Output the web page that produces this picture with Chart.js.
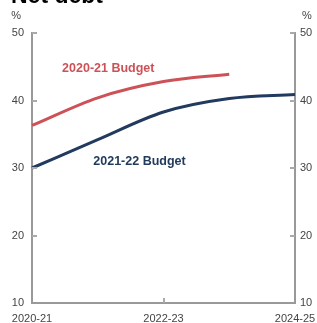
<!DOCTYPE html>
<html><head><meta charset="utf-8">
<script src="https://cdn.jsdelivr.net/npm/chart.js@4/dist/chart.umd.min.js"></script>
<style>html,body{margin:0;padding:0;background:#fff}#wrap{width:317px;height:323px;position:relative}</style>
</head><body><div id="wrap"><canvas id="c" width="317" height="323"></canvas></div>
<script>
const title = 'Net debt';
const unit = '%';
const years = ['2020-21','2021-22','2022-23','2023-24','2024-25'];
const shownYears = ['2020-21','2022-23','2024-25'];
const budget2021 = [36.3, 40.4, 42.8, 43.9, null];
const budget2122 = [30.0, 34.2, 38.3, 40.3, 40.9];
const seriesNames = ['2020-21 Budget','2021-22 Budget'];
const yTicks = [10,20,30,40,50];

const RED = '#cc5257', NAVY = '#223a5e', AXIS = '#999999', TXT = '#444444';
const FONT = '"Liberation Sans", Arial, sans-serif';

const deco = {
  id: 'deco',
  afterDraw(chart) {
    const ctx = chart.ctx, x = chart.scales.x, y = chart.scales.y, a = chart.chartArea;
    ctx.save();
    ctx.strokeStyle = '#aaaaaa'; ctx.lineWidth = 2;
    yTicks.slice(1).forEach(v => {
      const py = Math.round(y.getPixelForValue(v));
      ctx.beginPath(); ctx.moveTo(a.left, py); ctx.lineTo(a.left + 5, py); ctx.stroke();
      ctx.beginPath(); ctx.moveTo(a.right - 5, py); ctx.lineTo(a.right, py); ctx.stroke();
    });
    const px = Math.round(x.getPixelForValue(2));
    ctx.beginPath(); ctx.moveTo(px, a.bottom); ctx.lineTo(px, a.bottom - 5); ctx.stroke();
    ctx.fillStyle = TXT; ctx.font = '11px ' + FONT; ctx.textBaseline = 'middle';
    ctx.textAlign = 'right'; ctx.fillText(unit, 21, 16);
    ctx.textAlign = 'left'; ctx.fillText(unit, 302, 16);
    ctx.fillStyle = '#000'; ctx.font = 'bold 23px ' + FONT; ctx.textBaseline = 'alphabetic';
    ctx.fillText(title, 11, 3);
    ctx.font = 'bold 12.5px ' + FONT; ctx.textAlign = 'center'; ctx.textBaseline = 'middle';
    ctx.fillStyle = RED;
    ctx.fillText(seriesNames[0], x.getPixelForValue(1.16), y.getPixelForValue(44.8));
    ctx.fillStyle = NAVY;
    ctx.fillText(seriesNames[1], x.getPixelForValue(1.635), y.getPixelForValue(30.9));
    ctx.restore();
  }
};

new Chart(document.getElementById('c'), {
  type: 'line',
  data: {
    labels: years,
    datasets: [
      {label: seriesNames[0], data: budget2021, borderColor: RED, borderWidth: 3, pointRadius: 0, cubicInterpolationMode: 'monotone', spanGaps: false, yAxisID: 'y'},
      {label: seriesNames[1], data: budget2122, borderColor: NAVY, borderWidth: 3, pointRadius: 0, cubicInterpolationMode: 'monotone', yAxisID: 'y'}
    ]
  },
  options: {
    responsive: false, animation: false, devicePixelRatio: 1,
    layout: {padding: {top: 33, left: 0, right: 0, bottom: 0}},
    plugins: {legend: {display: false}, tooltip: {enabled: false}},
    scales: {
      x: {
        type: 'category', offset: false,
        grid: {display: false, drawTicks: false},
        border: {display: true, color: AXIS, width: 2},
        ticks: {autoSkip: false, maxRotation: 0, padding: 9, color: TXT, font: {family: FONT, size: 11},
          callback: function(v) { const l = this.getLabelForValue(v); return shownYears.includes(l) ? l : ''; }},
        afterFit(s) { s.height = 20; s.paddingLeft = 0; s.paddingRight = 0; }
      },
      y: {
        position: 'left', min: 10, max: 50,
        grid: {display: false, drawTicks: false},
        border: {display: true, color: AXIS, width: 2},
        ticks: {stepSize: 10, padding: 8, color: TXT, font: {family: FONT, size: 11}},
        afterFit(s) { s.width = 32; s.paddingTop = 0; s.paddingBottom = 0; }
      },
      y2: {
        position: 'right', min: 10, max: 50,
        grid: {display: false, drawTicks: false},
        border: {display: true, color: AXIS, width: 2},
        ticks: {stepSize: 10, padding: 5, color: TXT, font: {family: FONT, size: 11}},
        afterFit(s) { s.width = 22; s.paddingTop = 0; s.paddingBottom = 0; }
      }
    }
  },
  plugins: [deco]
});
</script></body></html>
